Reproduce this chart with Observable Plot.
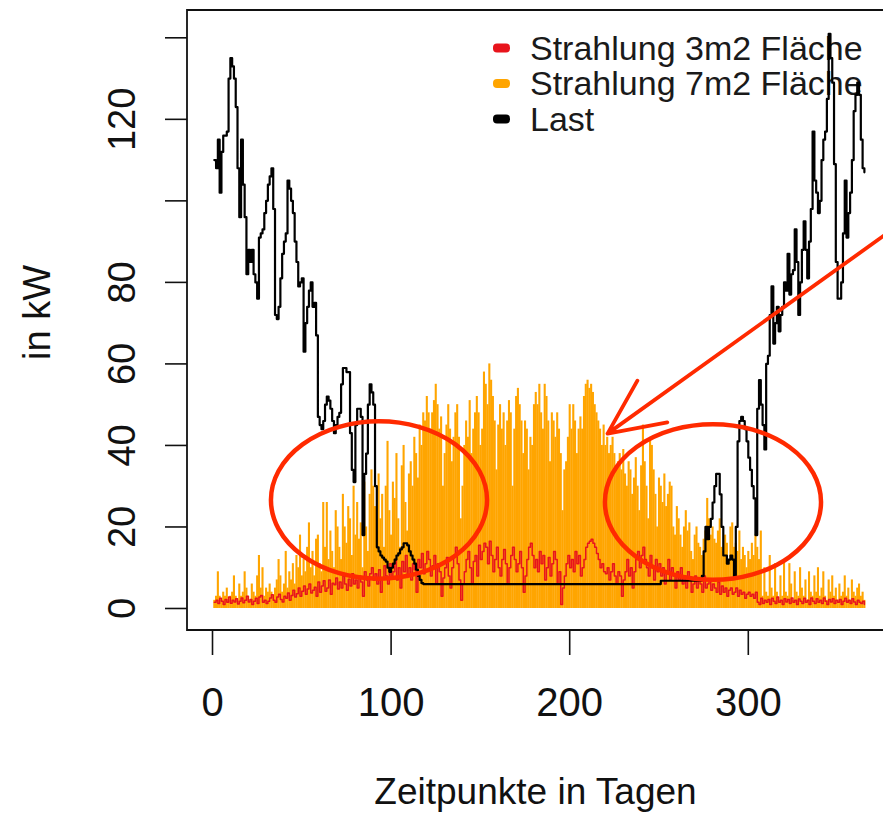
<!DOCTYPE html>
<html><head><meta charset="utf-8">
<script src="https://cdn.jsdelivr.net/npm/d3@7"></script>
<script src="https://cdn.jsdelivr.net/npm/@observablehq/plot@0.6"></script>
<style>body{margin:0;background:#fff;overflow:hidden} svg{display:block}</style>
</head><body><div id="chart"></div>
<script>
// Strahlung 7m2 Fläche (kW), days 1..365
const strahlung7 = [
2,3,9,3,2,4,3,5,2,3,
4,8,3,2,6,3,4,9,5,3,
2,6,4,3,8,13,5,10,3,5,
4,6,4,3,5,7,12,8,4,6,
14,5,9,7,11,6,13,10,18,8,
12,9,15,21,10,14,8,17,18,11,
9,26,15,26,12,19,14,10,24,20,
15,12,28,20,16,25,22,13,30,18,
26,17,21,10,31,20,14,28,34,30,
25,19,33,22,28,15,30,41,24,18,
31,27,38,22,15,35,40,26,19,33,
36,30,42,38,32,45,40,48,46,52,
48,44,48,51,55,50,44,47,30,38,
45,50,44,36,42,48,50,42,22,30,
40,46,42,51,38,44,48,52,48,40,
44,58,55,50,60,56,52,46,34,45,
50,44,48,40,46,51,48,30,44,52,
54,50,46,38,46,44,34,42,40,50,
53,50,55,48,44,55,52,46,36,48,
46,42,48,44,38,24,34,36,42,50,
44,50,46,38,44,47,44,52,55,56,
54,55,53,50,48,46,44,40,45,40,
42,38,40,42,38,34,36,38,34,39,
33,30,36,34,28,32,37,30,24,35,
45,36,30,22,42,40,34,28,20,32,
30,26,33,25,28,31,30,20,18,25,
22,18,15,20,24,19,21,14,12,18,
20,16,15,13,17,19,27,22,18,20,
17,16,19,22,15,14,18,16,12,20,
21,15,16,14,19,12,15,13,10,14,
12,16,13,18,15,12,19,3,10,4,
3,13,5,3,11,4,2,8,3,12,
4,3,11,6,2,9,4,3,10,5,
3,7,2,9,4,3,8,4,10,3,
5,9,3,2,7,4,8,3,5,2,
6,3,4,8,3,5,2,7,4,3,
5,6,3,4,2];

// Strahlung 3m2 Fläche (kW)
const strahlung3 = [
1.5,2.0,1.2,2.5,1.8,1.0,2.2,1.5,2.8,1.3,
2.0,1.6,2.4,1.1,1.8,2.6,1.4,2.0,3.0,1.6,
2.2,1.0,1.8,2.5,1.2,2.8,3.2,1.5,2.0,1.2,
1.8,2.6,3.4,2.0,1.5,2.8,3.5,2.2,1.6,3.0,
2.5,3.8,2.0,3.2,4.5,2.8,3.6,5.0,3.0,4.2,
5.5,3.5,4.8,6.0,3.8,4.5,5.2,3.0,6.5,4.0,
5.5,6.8,4.2,5.0,7.0,3.5,6.2,5.8,7.5,4.8,
6.5,5.0,8.0,6.0,4.5,7.2,5.5,8.5,6.0,7.0,
5.0,8.0,6.5,3.0,9.0,7.0,5.5,8.5,10.0,7.0,
8.5,6.0,9.5,4.0,7.5,10.5,8.0,6.0,11.0,7.5,
9.0,12.0,7.0,10.0,5.0,11.5,9.0,13.0,8.0,10.0,
7.0,11.0,9.5,4.0,12.0,10.0,13.5,8.5,11.0,14.0,
12.0,8.0,10.5,13.0,6.0,11.0,9.0,3.0,7.5,10.0,
12.5,8.0,5.0,10.0,13.0,15.0,11.0,7.0,2.0,6.0,
9.0,12.0,14.0,10.0,6.0,11.5,13.0,8.0,15.5,12.0,
14.0,16.0,15.0,11.0,16.5,13.0,9.0,12.0,15.0,10.0,
8.0,12.0,14.5,11.0,6.0,10.0,13.0,15.0,12.0,9.0,
11.0,14.0,10.0,4.0,8.0,12.0,15.0,16.0,13.0,10.0,
12.0,9.0,14.0,11.0,13.0,7.0,10.0,12.5,8.0,11.0,
14.0,12.0,6.0,9.0,1.0,5.0,8.0,11.0,13.0,10.0,
12.0,9.0,14.0,11.0,13.0,8.0,10.0,12.0,15.0,16.0,
16.5,17.0,16.0,15.0,13.5,12.0,10.0,11.0,9.0,8.5,
10.0,7.0,9.0,11.0,8.0,6.0,9.0,8.0,3.0,7.0,
9.0,12.0,8.0,10.0,5.0,9.0,12.0,14.0,10.0,13.0,
15.0,12.0,10.0,8.0,13.0,10.0,7.0,12.0,9.0,11.0,
8.0,10.0,6.0,9.0,12.0,7.0,10.0,8.0,5.0,9.0,
7.0,10.0,6.0,8.0,5.0,9.0,7.0,4.0,6.0,8.0,
5.0,7.0,6.0,4.0,8.0,5.0,6.0,7.0,4.5,6.0,
5.0,4.0,6.5,3.5,5.5,4.0,5.0,3.0,4.5,5.0,
3.5,4.0,5.0,3.0,4.5,3.5,4.0,2.5,3.5,4.0,
3.0,3.5,2.5,4.0,1.5,1.0,2.5,1.2,2.0,1.5,
2.2,1.0,2.5,1.8,1.2,2.8,1.5,2.0,1.0,2.4,
1.6,2.2,1.2,2.6,1.5,2.0,1.0,2.3,1.8,1.2,
2.5,1.5,2.0,1.0,2.6,1.8,1.2,2.4,1.5,2.0,
1.2,2.6,1.8,1.0,2.2,1.6,2.4,1.2,2.0,1.5,
2.2,1.0,1.8,2.5,1.5,2.0,1.2,2.4,1.6,1.0,
2.0,1.5,1.2,1.8,1.0];

// Last (kW)
const last = [
110,108,115,102,112,116,116,117,130,135,
133,130,123,108,96,115,104,96,82,88,
85,88,82,80,76,91,92,93,97,100,
104,106,108,98,72,71,74,81,87,90,
92,105,103,100,97,90,85,79,80,81,
63,70,74,78,80,74,75,67,47,45,
44,46,50,52,51,49,46,43,45,47,
48,55,59,59,58,58,43,34,31,45,
49,49,47,18,33,38,50,55,53,50,
30,15,14,13,12.5,12,11.5,10,9,10,
11,12,13,13.5,14.5,15,16,16,15.5,14,
13,12,11,9.5,8,7,6.2,6,6,6,
6,6,6,6,6,6,6,6,6,6,
6,6,6,6,6,6,6,6,6,6,
6,6,6,6,6,6,6,6,6,6,
6,6,6,6,6,6,6,6,6,6,
6,6,6,6,6,6,6,6,6,6,
6,6,6,6,6,6,6,6,6,6,
6,6,6,6,6,6,6,6,6,6,
6,6,6,6,6,6,6,6,6,6,
6,6,6,6,6,6,6,6,6,6,
6,6,6,6,6,6,6,6,6,6,
6,6,6,6,6,6,6,6,6,6,
6,6,6,6,6,6,6,6,6,6,
6,6,6,6,6,6,6,6,6,6,
6.8,6.8,6.8,6.8,6.8,6.8,6.8,6.8,6.8,6.8,
6.8,6.8,6.8,6.8,6.8,6.8,6.8,6.8,6.8,6.8,
6.8,6.8,6.8,8,14,20,17,20,22,26,
30,33,33,28,20,13,13,11,12,13,
12,8,20,41,46,47,46,44,41,37,
34,30,27,18,49,56,50,45,39,60,
62,72,79,65,70,74,68,72,74,80,
78,87,77,82,83,93,85,72,80,88,
95,88,81,90,98,117,105,102,97,100,
110,115,117,125,141,135,129,109,85,76,
76,80,92,105,91,97,102,110,122,126,
129,126,115,108,107];

const xTicks = [0, 100, 200, 300];
const yTicks = [0, 20, 40, 60, 80, 100, 120, 140];
const yTickLabels = ["0", "20", "40", "60", "80", "", "120", ""];
const legendLabels = ["Strahlung 3m2 Fläche", "Strahlung 7m2 Fläche", "Last"];
const legendColors = ["#e8141c", "#ffa500", "#000000"];
const xTitle = "Zeitpunkte in Tagen";
const yTitle = "in kW";
// hand-drawn annotations, in data coordinates (day, kW)
const ellipses = [
  {cx: 93.5, cy: 26.5, rx: 60.5, ry: 19.3},
  {cx: 280.5, cy: 26.0, rx: 60.5, ry: 19.1}
];
const arrows = [{x1: 376, y1: 91.5, x2: 221.2, y2: 42.9}];

[strahlung7, strahlung3, last].forEach((a, k) => {
  if (a.length !== 365) throw new Error("series " + k + " has length " + a.length);
});

const data = last.map((v, i) => ({day: i + 1, s7: strahlung7[i], s3: strahlung3[i], last: v}));
const NS = "http://www.w3.org/2000/svg";
const FONT = "'Liberation Sans', Arial, sans-serif";
const annot = "#ff2a00";

const legendMark = (index, scales, values, dim) => {
  const g = document.createElementNS(NS, "g");
  legendLabels.forEach((lab, i) => {
    const yy = 48 + i * 35.5;
    const r = document.createElementNS(NS, "rect");
    r.setAttribute("x", 493); r.setAttribute("y", yy - 4.5);
    r.setAttribute("width", 17); r.setAttribute("height", 9);
    r.setAttribute("rx", 4); r.setAttribute("fill", legendColors[i]);
    g.appendChild(r);
    const t = document.createElementNS(NS, "text");
    t.setAttribute("x", 530); t.setAttribute("y", yy);
    t.setAttribute("dy", "0.35em");
    t.setAttribute("text-anchor", "start");
    t.setAttribute("font-size", 34);
    t.setAttribute("font-family", FONT);
    t.setAttribute("fill", "#1a1a1a");
    t.textContent = lab;
    g.appendChild(t);
  });
  return g;
};

const frameMark = (index, scales, values, dim) => {
  const p = document.createElementNS(NS, "path");
  const l = dim.marginLeft, t = dim.marginTop, b = dim.height - dim.marginBottom, r = dim.width;
  p.setAttribute("d", `M${r},${t}H${l}V${b}H${r}`);
  p.setAttribute("fill", "none"); p.setAttribute("stroke", "#111"); p.setAttribute("stroke-width", 1.8);
  return p;
};

const ellipseMark = (index, scales) => {
  const g = document.createElementNS(NS, "g");
  ellipses.forEach(e => {
    const el = document.createElementNS(NS, "ellipse");
    const cx = scales.x(e.cx), cy = scales.y(e.cy);
    el.setAttribute("cx", cx); el.setAttribute("cy", cy);
    el.setAttribute("rx", Math.abs(scales.x(e.cx + e.rx) - cx));
    el.setAttribute("ry", Math.abs(scales.y(e.cy + e.ry) - cy));
    el.setAttribute("fill", "none"); el.setAttribute("stroke", annot);
    el.setAttribute("stroke-width", 4.5);
    g.appendChild(el);
  });
  return g;
};

const plot = Plot.plot({
  width: 883, height: 813,
  marginLeft: 187, marginRight: 0, marginTop: 10, marginBottom: 183,
  x: {domain: [-14, 375.7], label: null},
  y: {domain: [-5.4, 146.7], label: null},
  style: {fontFamily: FONT, background: "white", color: "#111"},
  marks: [
    Plot.ruleX(data, {x: "day", y1: 0, y2: "s7", stroke: "#ffa500", strokeWidth: 2.1}),
    legendMark,
    Plot.line(data, {x: "day", y: "s3", stroke: "#e8141c", strokeWidth: 1.5, curve: "step-after"}),
    Plot.line(data, {x: "day", y: "last", stroke: "#000", strokeWidth: 2.2, curve: "step-after"}),
    frameMark,
    Plot.axisX({ticks: xTicks, tickSize: 25, tickPadding: 32, fontSize: 40, strokeWidth: 1.6, label: null, tickFormat: d => String(d)}),
    Plot.axisY({ticks: yTicks, tickSize: 22, strokeWidth: 1.6, label: null, tickFormat: () => ""}),
    Plot.text(yTicks, {y: d => d, text: (d, i) => yTickLabels[i], frameAnchor: "left", textAnchor: "middle", lineAnchor: "middle", dx: -65, rotate: -90, fontSize: 38, fill: "#111"}),
    Plot.text([xTitle], {text: d => d, frameAnchor: "bottom", textAnchor: "middle", dy: 173, fontSize: 37, fill: "#111"}),
    Plot.text([yTitle], {text: d => d, frameAnchor: "left", textAnchor: "middle", lineAnchor: "middle", dx: -150, dy: -8, rotate: -90, fontSize: 38, fill: "#111"}),
    ellipseMark,
    Plot.arrow(arrows, {x1: "x1", y1: "y1", x2: "x2", y2: "y2", stroke: annot, strokeWidth: 3.8, headLength: 24, headAngle: 50})
  ]
});
document.getElementById("chart").appendChild(plot);
</script>
</body></html>
